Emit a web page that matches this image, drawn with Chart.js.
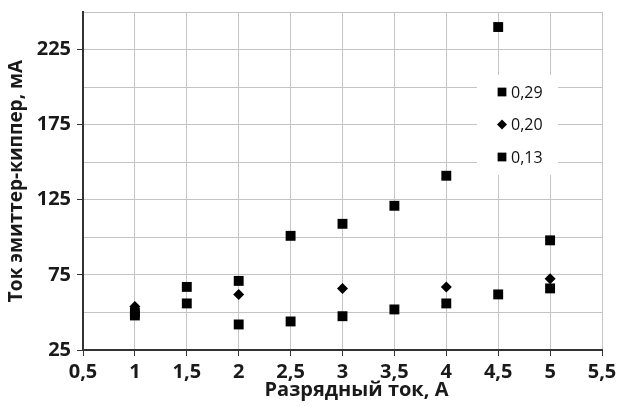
<!DOCTYPE html>
<html>
<head>
<meta charset="utf-8">
<script src="https://cdn.jsdelivr.net/npm/chart.js@4/dist/chart.umd.min.js"></script>
<style>
  html, body { margin: 0; padding: 0; background: #fff; }
  #wrap { width: 626px; height: 407px; }
</style>
</head>
<body>
<div id="wrap"><canvas id="c" width="626" height="407"></canvas></div>
<script>
// ---- data ----
const xValues = [1, 1.5, 2, 2.5, 3, 3.5, 4, 4.5, 5];
const series029 = [50, 67, 71, 101, 109, 121, 141, 240, 98];
const series013 = [48, 56, 42, 44, 47.5, 52, 56, 62, 66];
const xValues020 = [1, 2, 3, 4, 5];
const series020 = [54, 62, 66, 67, 72.5];
const seriesLabels = ['0,29', '0,20', '0,13'];
const xTickLabels = ['0,5', '1', '1,5', '2', '2,5', '3', '3,5', '4', '4,5', '5', '5,5'];
const yTickLabels = ['25', '75', '125', '175', '225'];
const xTitle = 'Разрядный ток, А';
const yTitle = 'Ток эмиттер-киппер, мА';

const toPoints = (xs, ys) => xs.map((x, i) => ({ x: x, y: ys[i] }));
const isYLabel = v => yTickLabels.includes(String(v));

const insideLegend = {
  id: 'insideLegend',
  afterDatasetsDraw(chart) {
    const ctx = chart.ctx;
    const ca = chart.chartArea;
    const bx = ca.right - 125, by = ca.top + 63;
    ctx.save();
    ctx.fillStyle = '#ffffff';
    ctx.fillRect(bx, by, 81, 100);
    ctx.font = '16px "Open Sans"';
    ctx.textBaseline = 'middle';
    ctx.textAlign = 'left';
    chart.data.datasets.forEach((ds, i) => {
      const cy = by + 17 + i * 32.5;
      const mx = bx + 25;
      ctx.fillStyle = '#000';
      Chart.helpers.drawPoint(ctx, {
        pointStyle: ds.pointStyle,
        radius: ds.pointStyle === 'rect' ? 6.2 : 5,
        rotation: 0,
        borderWidth: 0
      }, mx, cy);
      ctx.fillStyle = '#111';
      ctx.fillText(ds.label, mx + 9, cy + 1);
    });
    ctx.restore();
  }
};

function shiftTitle(scale, dx) {
  if (scale._titleShifted) return;
  const orig = scale.drawTitle.bind(scale);
  scale.drawTitle = function () {
    this.ctx.save();
    this.ctx.translate(dx, 0);
    orig();
    this.ctx.restore();
  };
  scale._titleShifted = true;
}

new Chart(document.getElementById('c'), {
  type: 'scatter',
  data: {
    datasets: [
      { label: seriesLabels[0], data: toPoints(xValues, series029), pointStyle: 'rect', pointRadius: 7, backgroundColor: '#000', borderColor: '#000', borderWidth: 0 },
      { label: seriesLabels[1], data: toPoints(xValues020, series020), pointStyle: 'rectRot', pointRadius: 5.5, backgroundColor: '#000', borderColor: '#000', borderWidth: 0 },
      { label: seriesLabels[2], data: toPoints(xValues, series013), pointStyle: 'rect', pointRadius: 7, backgroundColor: '#000', borderColor: '#000', borderWidth: 0 }
    ]
  },
  options: {
    responsive: false,
    animation: false,
    events: [],
    layout: { padding: { top: 12, right: 24, left: 0, bottom: 0 } },
    plugins: { legend: { display: false }, tooltip: { enabled: false } },
    scales: {
      x: {
        type: 'linear',
        min: 0.5, max: 5.5,
        afterFit: s => { s.height = 57; shiftTitle(s, 14); },
        afterBuildTicks: s => { s.ticks = xTickLabels.map((t, i) => ({ value: 0.5 + i * 0.5 })); },
        ticks: {
          callback: v => xTickLabels[Math.round((v - 0.5) / 0.5)],
          font: { family: 'Open Sans', weight: 'bold', size: 20 },
          color: '#1a1a1a',
          padding: 4,
          maxRotation: 0, autoSkip: false
        },
        grid: { color: '#c4c4c4', lineWidth: 1, tickLength: 6, tickColor: '#333', drawTicks: true },
        border: { color: '#333', width: 2 },
        title: {
          display: true, text: xTitle,
          font: { family: 'Open Sans', weight: 'bold', size: 20 },
          color: '#1a1a1a',
          padding: { top: 0, bottom: 5 }
        }
      },
      y: {
        type: 'linear',
        min: 25, max: 250,
        afterFit: s => { s.width = 83; s.paddingTop = 0; s.paddingBottom = 0; },
        ticks: {
          stepSize: 25,
          callback: v => isYLabel(v) ? String(v) : '',
          font: { family: 'Open Sans', weight: 'bold', size: 20 },
          color: '#1a1a1a',
          padding: 6
        },
        grid: {
          color: '#c4c4c4', lineWidth: 1, tickLength: 6,
          tickColor: c => (c.tick && isYLabel(c.tick.value)) ? '#333' : 'rgba(0,0,0,0)'
        },
        border: { color: '#333', width: 2 },
        title: {
          display: true, text: yTitle,
          font: { family: 'Open Sans', weight: 'bold', size: 19 },
          color: '#1a1a1a',
          padding: { top: 5, bottom: 0 }
        }
      }
    }
  },
  plugins: [insideLegend]
});
</script>
</body>
</html>
